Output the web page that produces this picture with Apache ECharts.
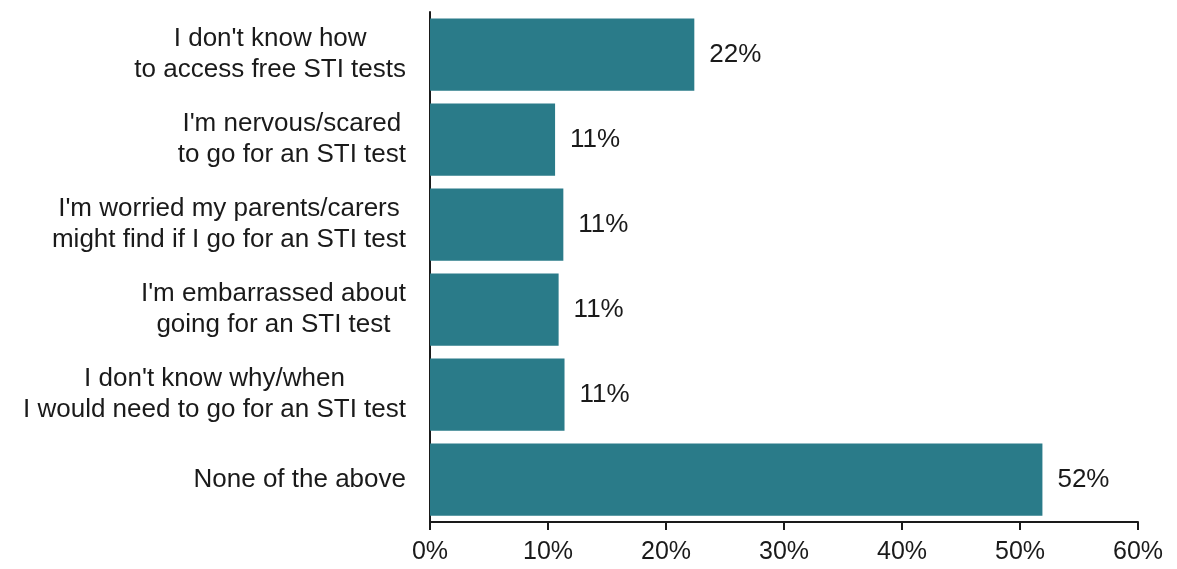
<!DOCTYPE html>
<html>
<head>
<meta charset="utf-8">
<script src="https://cdn.jsdelivr.net/npm/echarts@6/dist/echarts.min.js"></script>
<style>
  html, body { margin: 0; padding: 0; background: #ffffff; }
  #chart { width: 1177px; height: 569px; }
</style>
</head>
<body>
<div id="chart"></div>
<script>
// Reasons for not getting an STI test (share of respondents, %)
const categories = [
  "I don't know how\nto access free STI tests",
  "I'm nervous/scared\nto go for an STI test",
  "I'm worried my parents/carers\nmight find if I go for an STI test",
  "I'm embarrassed about\ngoing for an STI test",
  "I don't know why/when\nI would need to go for an STI test",
  "None of the above"
];
const shares = [22.4, 10.6, 11.3, 10.9, 11.4, 51.9];
const axisMin = 0;
const axisMax = 60;
const axisStep = 10;

const FONT = '"Liberation Sans", Arial, sans-serif';
const TEXT = '#1a1a1a';
const BAR = '#2a7b89';

const chart = echarts.init(document.getElementById('chart'), null, { renderer: 'canvas' });

chart.setOption({
  backgroundColor: '#ffffff',
  animation: false,
  grid: { left: 430, right: 39, top: 12, bottom: 47, containLabel: false },
  xAxis: {
    type: 'value',
    min: axisMin,
    max: axisMax,
    interval: axisStep,
    axisLine: { show: true, lineStyle: { color: '#1a1a1a', width: 2 } },
    axisTick: { show: true, length: 8, lineStyle: { color: '#1a1a1a', width: 2 } },
    splitLine: { show: false },
    axisLabel: {
      formatter: '{value}%',
      color: TEXT,
      fontFamily: FONT,
      fontSize: 25,
      margin: 18
    }
  },
  yAxis: {
    type: 'category',
    data: categories,
    inverse: true,
    axisLine: { show: true, lineStyle: { color: '#1a1a1a', width: 2 } },
    axisTick: { show: false },
    axisLabel: {
      margin: 24,
      formatter: function (val) {
        // each line centred within the right-aligned label block
        return val.split('\n').map(function (l) { return '{c|' + l + '}'; }).join('\n');
      },
      rich: {
        c: {
          align: 'center',
          color: TEXT,
          fontFamily: FONT,
          fontSize: 26,
          lineHeight: 31
        }
      }
    }
  },
  series: [{
    type: 'bar',
    data: shares,
    barCategoryGap: '15%',
    itemStyle: { color: BAR },
    label: {
      show: true,
      position: 'right',
      distance: 15,
      color: TEXT,
      fontFamily: FONT,
      fontSize: 26,
      formatter: function (p) { return Math.round(p.value) + '%'; }
    }
  }]
});
</script>
</body>
</html>
